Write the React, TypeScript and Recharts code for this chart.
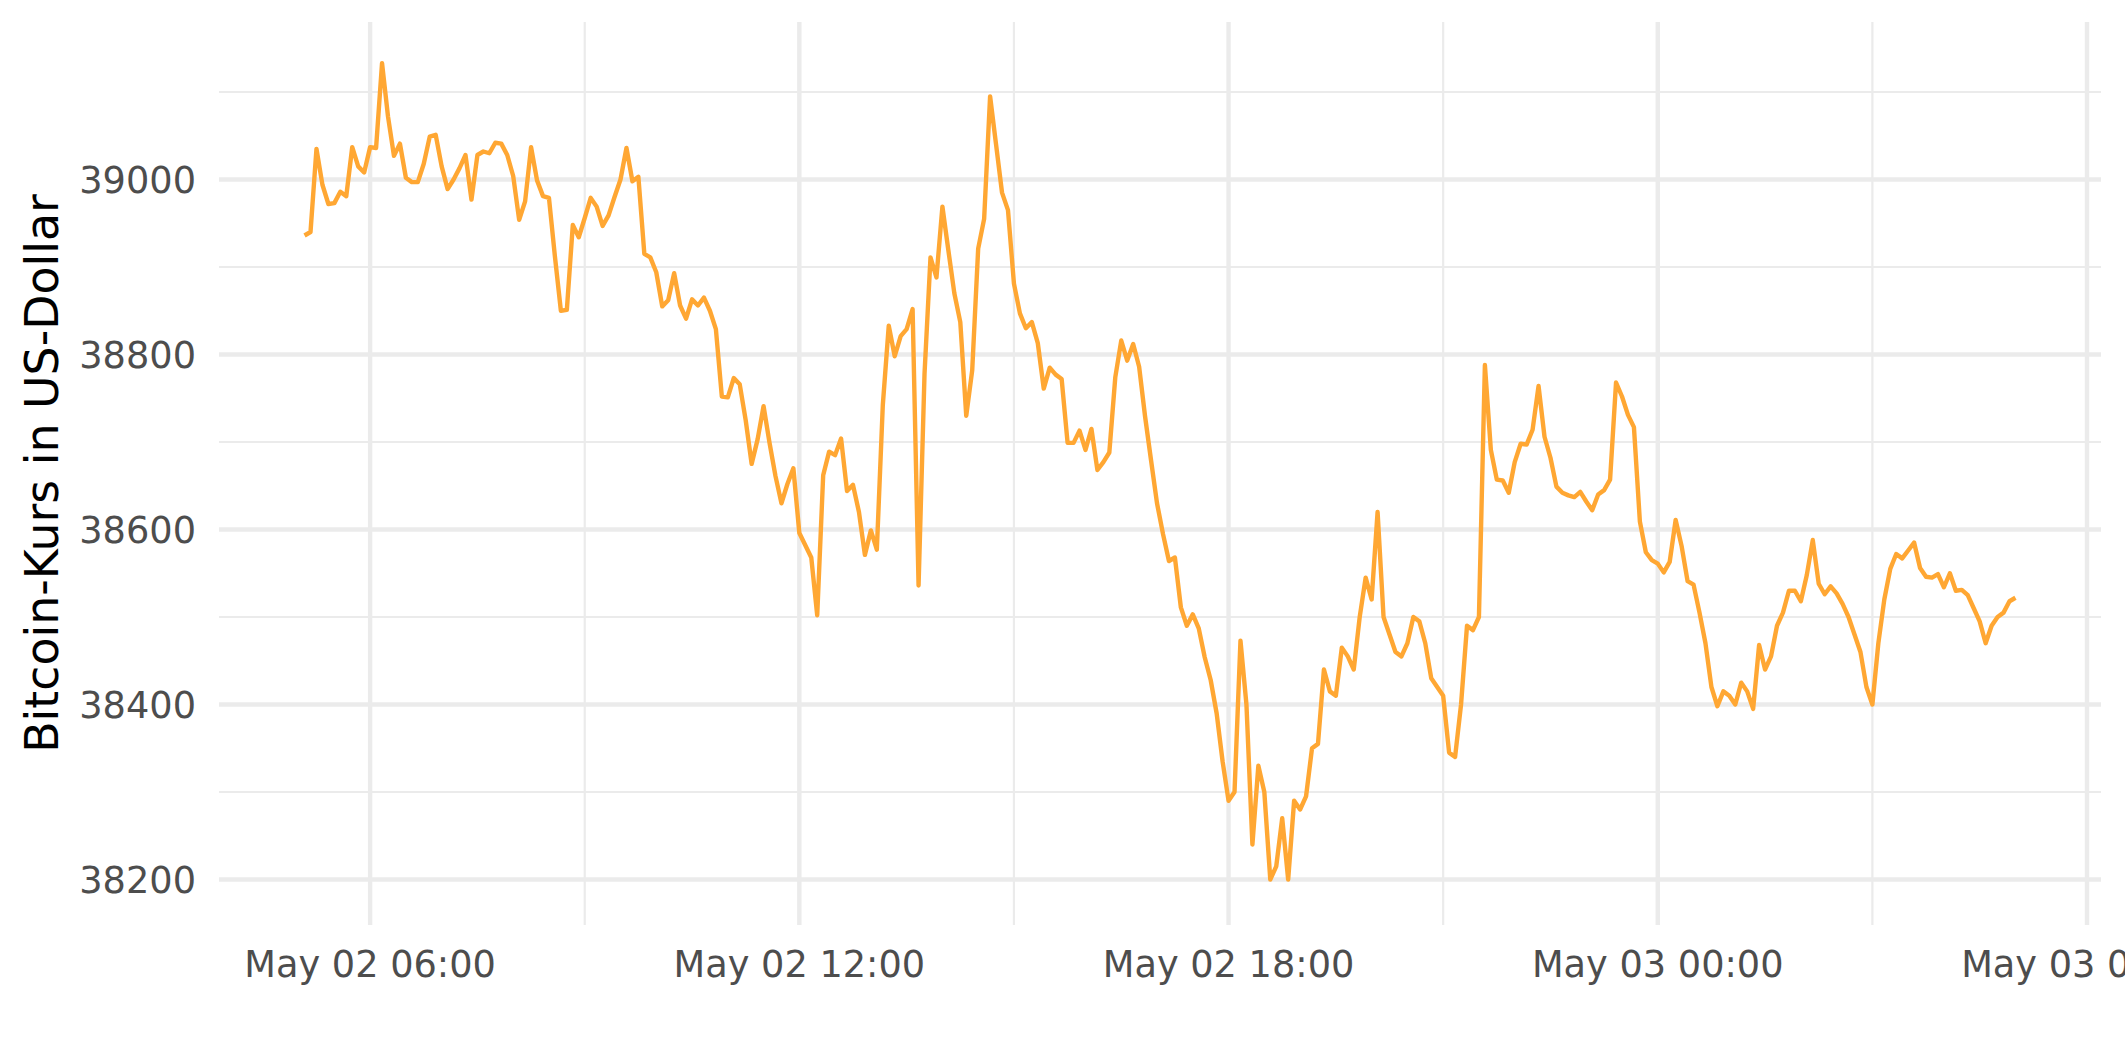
import React from 'react';
import { LineChart, Line, XAxis, YAxis, CartesianGrid } from 'recharts';

// Bitcoin price, one value every 5 minutes, starting May 02 05:05
const startMinute = 305; // minutes after May 02 00:00
const stepMinutes = 5;

const price0505to0900 = [
  38936, 38940, 39035, 38994, 38972, 38973, 38986, 38981, 39037, 39015,
  39008, 39037, 39036, 39133, 39072, 39027, 39041, 39002, 38997, 38997,
  39018, 39049, 39051, 39015, 38989, 39000, 39013, 39028, 38977, 39028,
  39032, 39030, 39042, 39041, 39028, 39004, 38954, 38975, 39037, 38999,
  38981, 38979, 38912, 38850, 38851, 38948, 38934, 38956,
];
const price0905to1300 = [
  38979, 38969, 38947, 38959, 38980, 39000, 39036, 38998, 39003, 38915,
  38911, 38894, 38855, 38862, 38893, 38856, 38841, 38863, 38856, 38865,
  38850, 38829, 38752, 38751, 38773, 38766, 38725, 38675, 38703, 38741,
  38699, 38661, 38630, 38652, 38670, 38596, 38582, 38568, 38502, 38662,
  38689, 38685, 38704, 38644, 38651, 38620, 38571, 38599,
];
const price1305to1700 = [
  38577, 38742, 38833, 38798, 38821, 38829, 38852, 38536, 38778, 38911,
  38888, 38969, 38919, 38870, 38837, 38730, 38782, 38921, 38955, 39095,
  39040, 38985, 38965, 38881, 38847, 38830, 38837, 38813, 38761, 38785,
  38777, 38772, 38699, 38699, 38713, 38691, 38715, 38668, 38677, 38688,
  38774, 38816, 38793, 38812, 38786, 38729, 38679, 38630,
];
const price1705to2100 = [
  38595, 38564, 38568, 38511, 38490, 38503, 38487, 38454, 38428, 38390,
  38335, 38290, 38300, 38473, 38400, 38240, 38330, 38300, 38200, 38215,
  38270, 38200, 38290, 38280, 38295, 38350, 38355, 38440, 38415, 38410,
  38465, 38455, 38440, 38500, 38545, 38520, 38620, 38500, 38480, 38460,
  38455, 38470, 38500, 38495, 38470, 38430, 38420, 38410,
];
const price2105to0100 = [
  38345, 38340, 38400, 38490, 38485, 38500, 38788, 38691, 38657, 38656,
  38642, 38677, 38698, 38697, 38714, 38764, 38706, 38682, 38649, 38642,
  38639, 38637, 38643, 38632, 38622, 38640, 38645, 38657, 38768, 38752,
  38731, 38717, 38609, 38574, 38565, 38561, 38551, 38563, 38611, 38581,
  38541, 38537, 38505, 38470, 38420, 38398, 38415, 38410,
];
const price0105to0500 = [
  38400, 38425, 38415, 38395, 38468, 38440, 38455, 38490, 38505, 38530,
  38530, 38518, 38548, 38588, 38538, 38526, 38535, 38527, 38515, 38500,
  38480, 38460, 38420, 38400, 38470, 38520, 38555, 38572, 38567, 38576,
  38585, 38556, 38546, 38545, 38549, 38534, 38550, 38530, 38531, 38525,
  38510, 38495, 38470, 38490, 38500, 38505, 38518, 38522,
];

const prices = [
  ...price0505to0900,
  ...price0905to1300,
  ...price1305to1700,
  ...price1705to2100,
  ...price2105to0100,
  ...price0105to0500,
];

const data = prices.map((v, i) => ({ t: startMinute + i * stepMinutes, v }));

// axis breaks (minutes after May 02 00:00)
const majorX = [360, 720, 1080, 1440, 1800];
const minorX = [540, 900, 1260, 1620];
const majorY = [38200, 38400, 38600, 38800, 39000];
const minorY = [38300, 38500, 38700, 38900, 39100];

const fmtTime = (m: number) => {
  const day = m >= 1440 ? '03' : '02';
  const h = Math.floor((m % 1440) / 60);
  const mm = m % 60;
  return `May ${day} ${String(h).padStart(2, '0')}:${String(mm).padStart(2, '0')}`;
};

const font = 'DejaVu Sans';

const YTitle = (props: any) => {
  const vb = props.viewBox;
  const cy = vb.y + vb.height / 2;
  return (
    <text
      x={58}
      y={cy}
      transform={`rotate(-90, 58, ${cy})`}
      textAnchor="middle"
      fontFamily={font}
      fontSize={45.8}
      fill="#000000"
    >
      Bitcoin-Kurs in US-Dollar
    </text>
  );
};

export default function App() {
  return (
    <div style={{ position: 'absolute', left: 0, top: 0, width: 2125, height: 1062, background: '#ffffff' }}>
      <LineChart width={2125} height={1062} data={data} margin={{ top: 22, right: 24, bottom: 77, left: 0 }}>
        <CartesianGrid
          stroke="#EBEBEB"
          strokeWidth={2.2}
          horizontalValues={minorY}
          verticalValues={minorX}
        />
        <CartesianGrid
          stroke="#EBEBEB"
          strokeWidth={4.4}
          horizontalValues={majorY}
          verticalValues={majorX}
        />
        <XAxis
          dataKey="t"
          type="number"
          domain={[233.25, 1811.75]}
          ticks={majorX}
          interval={0}
          tickFormatter={fmtTime}
          axisLine={false}
          tickLine={false}
          tickSize={0}
          tickMargin={26}
          height={60}
          allowDataOverflow
          tick={{ fill: '#4D4D4D', fontSize: 36.7, fontFamily: font }}
        />
        <YAxis
          type="number"
          domain={[38148, 39180]}
          ticks={majorY}
          interval={0}
          axisLine={false}
          tickLine={false}
          tickSize={0}
          tickMargin={23}
          width={219}
          allowDataOverflow
          tick={{ fill: '#4D4D4D', fontSize: 36.7, fontFamily: font }}
          label={{ content: YTitle }}
        />
        <Line
          type="linear"
          dataKey="v"
          stroke="#FFA733"
          strokeWidth={4.4}
          strokeLinejoin="round"
          dot={false}
          activeDot={false}
          isAnimationActive={false}
        />
      </LineChart>
    </div>
  );
}
